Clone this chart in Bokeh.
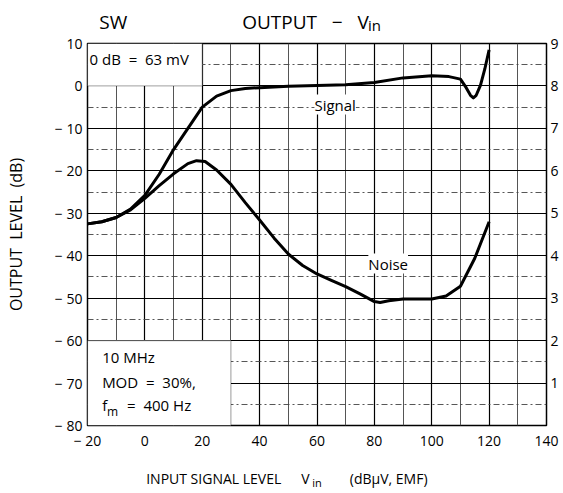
from bokeh.plotting import figure
from bokeh.models import Range1d, LinearAxis, FixedTicker, Label, BoxAnnotation
from bokeh.embed import file_html
from bokeh.resources import INLINE

# ---- data ----
signal_x = [-20, -15, -10, -5, 0, 5, 10, 15, 20, 25, 30, 35, 40, 50, 60, 70, 80, 90, 100,
            106, 110, 112, 113.5, 114.5, 115.5, 117, 118.5, 120]
signal_y = [-32.5, -32, -31, -29, -25.8, -20.8, -15, -10, -5, -2.4, -1.1, -0.6, -0.4, -0.1,
            0.1, 0.3, 0.8, 1.9, 2.4, 2.2, 1.6, -0.4, -2.2, -2.8, -2.2, 0.2, 4, 8.5]

noise_x = [-20, -15, -10, -5, 0, 5, 10, 15, 18, 21, 25, 30, 35, 40, 45, 50, 55, 60, 65, 70,
           75, 80, 82, 85, 90, 95, 100, 105, 110, 115, 120]
noise_y = [-32.5, -32, -31, -29.2, -26.5, -23.5, -20.7, -18.3, -17.6, -17.8, -19.8, -23.2,
           -27.5, -31.6, -35.8, -39.6, -42.3, -44.3, -45.8, -47.3, -49, -50.8, -51, -50.6,
           -50.2, -50.2, -50.2, -49.5, -47.2, -40.6, -32]

x_ticks = [-20, 0, 20, 40, 60, 80, 100, 120, 140]
x_tick_labels = ["− 20", "0", "20", "40", "60", "80", "100", "120", "140"]
x_minor = [-10, 10, 30, 50, 70, 90, 110, 130]
y_ticks = [-80, -70, -60, -50, -40, -30, -20, -10, 0, 10]
y_tick_labels = ["− 80", "− 70", "− 60", "− 50", "− 40", "− 30", "− 20", "− 10", "0", "10"]
y_minor = [-75, -65, -55, -45, -35, -25, -15, -5, 5]
right_ticks = [1, 2, 3, 4, 5, 6, 7, 8, 9]

NB = "\u00a0"
title_left = "SW"
title_main = "OUTPUT" + NB * 3 + "−" + NB * 3 + "V"
title_sub = "in"
x_title_a = "INPUT" + NB + "SIGNAL" + NB + "LEVEL"
x_title_v = "V"
x_title_sub = "in"
x_title_b = "(dBμV," + NB + "EMF)"
y_title = "OUTPUT" + NB + NB + "LEVEL" + NB + NB + "(dB)"

FONT = "Open Sans"

p = figure(width=563, height=493, x_range=Range1d(-20, 140), y_range=Range1d(-80, 10),
           output_backend="svg", toolbar_location=None,
           min_border_left=87, min_border_right=17, min_border_top=43, min_border_bottom=68)
p.background_fill_color = "white"
p.border_fill_color = "white"
p.outline_line_color = "black"
p.outline_line_width = 1.5

xt = FixedTicker(ticks=x_ticks, minor_ticks=x_minor)
yt = FixedTicker(ticks=y_ticks, minor_ticks=y_minor)
p.xaxis.ticker = xt
p.yaxis.ticker = yt
p.xgrid.ticker = xt
p.ygrid.ticker = yt

p.xgrid.grid_line_color = "black"
p.xgrid.grid_line_width = 1.2
p.xgrid.minor_grid_line_color = "#555555"
p.xgrid.minor_grid_line_width = 1
p.ygrid.grid_line_color = "black"
p.ygrid.grid_line_width = 1.2
p.ygrid.minor_grid_line_color = "#444444"
p.ygrid.minor_grid_line_width = 0.9
p.ygrid.minor_grid_line_dash = "6 3 2 3"


def style_axis(ax, size="14px"):
    ax.axis_line_color = None
    ax.major_tick_out = 0
    ax.major_tick_in = 0
    ax.minor_tick_out = 0
    ax.minor_tick_in = 0
    ax.major_label_text_font = FONT
    ax.major_label_text_font_size = size
    ax.major_label_text_color = "black"


def set_standoff(ax, v):
    try:
        ax.major_label_standoff = v
    except Exception:
        ax.major_label_standoff = 0


xa = p.xaxis[0]
xa.major_label_overrides = {t: s for t, s in zip(x_ticks, x_tick_labels)}
ya = p.yaxis[0]
ya.major_label_overrides = {t: s for t, s in zip(y_ticks, y_tick_labels)}
style_axis(xa)
style_axis(ya)
xa.major_label_standoff = 5
ya.major_label_standoff = 5
ya.axis_label = y_title
ya.axis_label_text_font = FONT
ya.axis_label_text_font_size = "16px"
ya.axis_label_text_font_style = "normal"
ya.axis_label_text_color = "black"
ya.axis_label_standoff = 25

# right-hand scale
p.extra_y_ranges = {"r": Range1d(0, 9)}
ra = LinearAxis(y_range_name="r", ticker=FixedTicker(ticks=right_ticks))
style_axis(ra)
ra.major_label_standoff = 4
p.add_layout(ra, "right")

# title line: subscript row (inner) and main row (outer, pulled down)
ts = LinearAxis(ticker=FixedTicker(ticks=[80]), major_label_overrides={80: title_sub})
style_axis(ts, "15px")
ts.major_label_standoff = 9
p.add_layout(ts, "above")
ta = LinearAxis(ticker=FixedTicker(ticks=[-11, 56]),
                major_label_overrides={-11: title_left, 56: title_main})
style_axis(ta, "19px")
set_standoff(ta, -23)
p.add_layout(ta, "above")

# x axis title rows
xb = LinearAxis(ticker=FixedTicker(ticks=[24, 56, 85]),
                major_label_overrides={24: x_title_a, 56: x_title_v, 85: x_title_b})
style_axis(xb, "14px")
xb.major_label_standoff = 16
p.add_layout(xb, "below")
xs = LinearAxis(ticker=FixedTicker(ticks=[60]), major_label_overrides={60: x_title_sub})
style_axis(xs, "11px")
set_standoff(xs, -16)
p.add_layout(xs, "below")

# white boxes
p.add_layout(BoxAnnotation(left=-20, right=20, bottom=0, top=10, fill_color="white",
                           fill_alpha=1, line_color="black", line_width=1.2, level="underlay"))
p.add_layout(BoxAnnotation(left=-20, right=30, bottom=-80, top=-60, fill_color="white",
                           fill_alpha=1, line_color="black", line_width=1.2, level="underlay"))

p.line(signal_x, signal_y, line_width=3, color="black", line_join="round")
p.line(noise_x, noise_y, line_width=3, color="black", line_join="round")


def lab(x, y, text, size, bg=None):
    l = Label(x=x, y=y, text=text, text_font=FONT, text_font_size=size,
              text_color="black", text_baseline="alphabetic", text_align="left")
    if bg:
        l.background_fill_color = bg
    p.add_layout(l)


lab(-19.3, 6.3, "0 dB" + NB + NB + "=" + NB + NB + "63 mV", "15px")
lab(-14.9, -63.8, "10 MHz", "15px")
lab(-14.9, -69.8, "MOD" + NB + NB + "=" + NB + NB + "30%,", "15px")
lab(-14.9, -75.1, "f", "15px")
lab(-13.2, -76.6, "m", "12px")
lab(-6.2, -75.1, "=" + NB + NB + "400 Hz", "15px")
lab(59.1, -4.4, "Signal", "15px", "white")
lab(77.9, -41.85, "Noise", "15px", "white")

open("out.html", "w").write(file_html(p, INLINE))
